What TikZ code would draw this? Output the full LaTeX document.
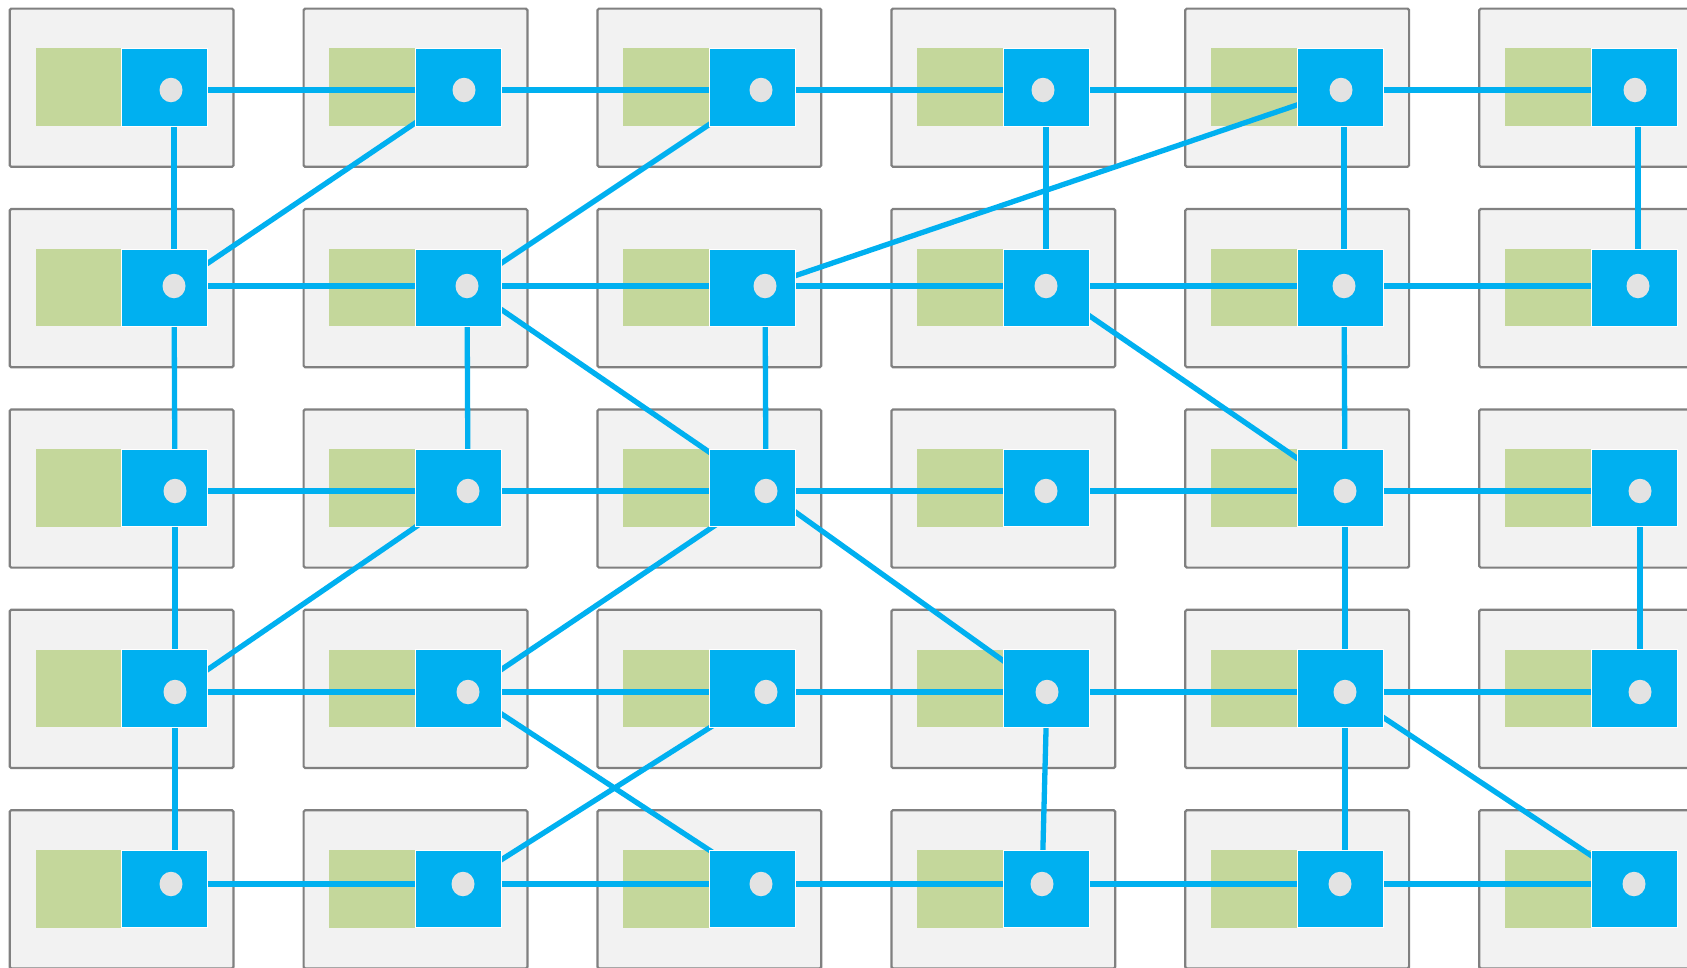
\documentclass[tikz,border=0pt]{standalone}
\usetikzlibrary{shapes.geometric}
\definecolor{boxgray}{HTML}{F2F2F2}
\definecolor{boxedge}{HTML}{808080}
\definecolor{leaf}{HTML}{C4D79B}
\definecolor{sky}{HTML}{00B0F0}
\definecolor{dotgray}{HTML}{E3E3E3}
\begin{document}
\begin{tikzpicture}[x=1pt,y=-1pt,
  outerbox/.style={draw=boxedge,fill=boxgray,line width=2.2pt,rounded corners=1.5pt,minimum width=223.8pt,minimum height=158.2pt,inner sep=0pt,outer sep=0pt,anchor=north west},
  greenbox/.style={fill=leaf,minimum width=86.1pt,minimum height=77.5pt,inner sep=0pt,outer sep=0pt,anchor=north west},
  bluebox/.style={fill=sky,draw=white,line width=0.6pt,minimum width=86.1pt,minimum height=77.5pt,inner sep=0pt,outer sep=0pt,anchor=north west},
  link/.style={draw=sky,line width=5.3pt},
  hole/.style={ellipse,fill=dotgray,minimum width=23pt,minimum height=24.5pt,inner sep=0pt}]
\useasboundingbox (0,0) rectangle (1687,967);
\clip (0,0) rectangle (1687,967);
\fill[white] (0,0) rectangle (1687,967);
% outer boxes and green parts
\foreach \c in {0,...,5}{
  \foreach \r in {0,...,4}{
    \node[outerbox] (o\r\c) at ({9.7+293.9*\c},{8.6+200.4*\r}) {};
    \node[greenbox] (g\r\c) at ({9.7+293.9*\c+25.8},{8.6+200.4*\r+39.8}) {};
  }
}
% dot centres
\foreach \x/\y/\n in {
  171/90/11, 464/90/12, 761/90/13, 1043/90/14, 1341/90/15, 1635/90/16,
  174/286/21, 467/286/22, 765/286/23, 1046/286/24, 1344/286/25, 1638/286/26,
  175/491/31, 468/491/32, 766/491/33, 1046/491/34, 1345/491/35, 1640/491/36,
  175/692/41, 468/692/42, 766/692/43, 1047/692/44, 1345/692/45, 1640/692/46,
  171/884/51, 463/884/52, 761/884/53, 1042/884/54, 1340/884/55, 1634/884/56}{
  \coordinate (d\n) at (\x,\y);
}
% horizontal links
\foreach \r in {1,...,5}{
  \foreach \c [evaluate=\c as \cn using int(\c+1)] in {1,...,5}{
    \draw[link] (d\r\c) -- (d\r\cn);
  }
}
% vertical links (straight, at the x of the reference dot)
\foreach \a/\b in {11/21,14/24,15/25,16/26}{
  \draw[link] (d\b |- d\a) -- (d\b);
}
\foreach \a/\b in {41/51,45/55}{
  \draw[link] (d\a) -- (d\a |- d\b);
}
\foreach \a/\b in {21/31,31/41,22/32,23/33,44/54,25/35,35/45,36/46}{
  \draw[link] (d\a) -- (d\b);
}
% diagonal links
\foreach \a/\b in {12/21,13/22,15/23,22/33,24/35,32/41,33/42,33/44,42/53,43/52,45/56}{
  \draw[link] (d\a) -- (d\b);
}
% blue squares
\foreach \c in {0,...,5}{
  \foreach \r in {0,...,4}{
    \node[bluebox] (b\r\c) at ({9.7+293.9*\c+111.9},{8.6+200.4*\r+39.8}) {};
  }
}
% holes
\foreach \n in {11,12,13,14,15,16,21,22,23,24,25,26,31,32,33,34,35,36,41,42,43,44,45,46,51,52,53,54,55,56}{
  \node[hole] (h\n) at (d\n) {};
}
\end{tikzpicture}
\end{document}
